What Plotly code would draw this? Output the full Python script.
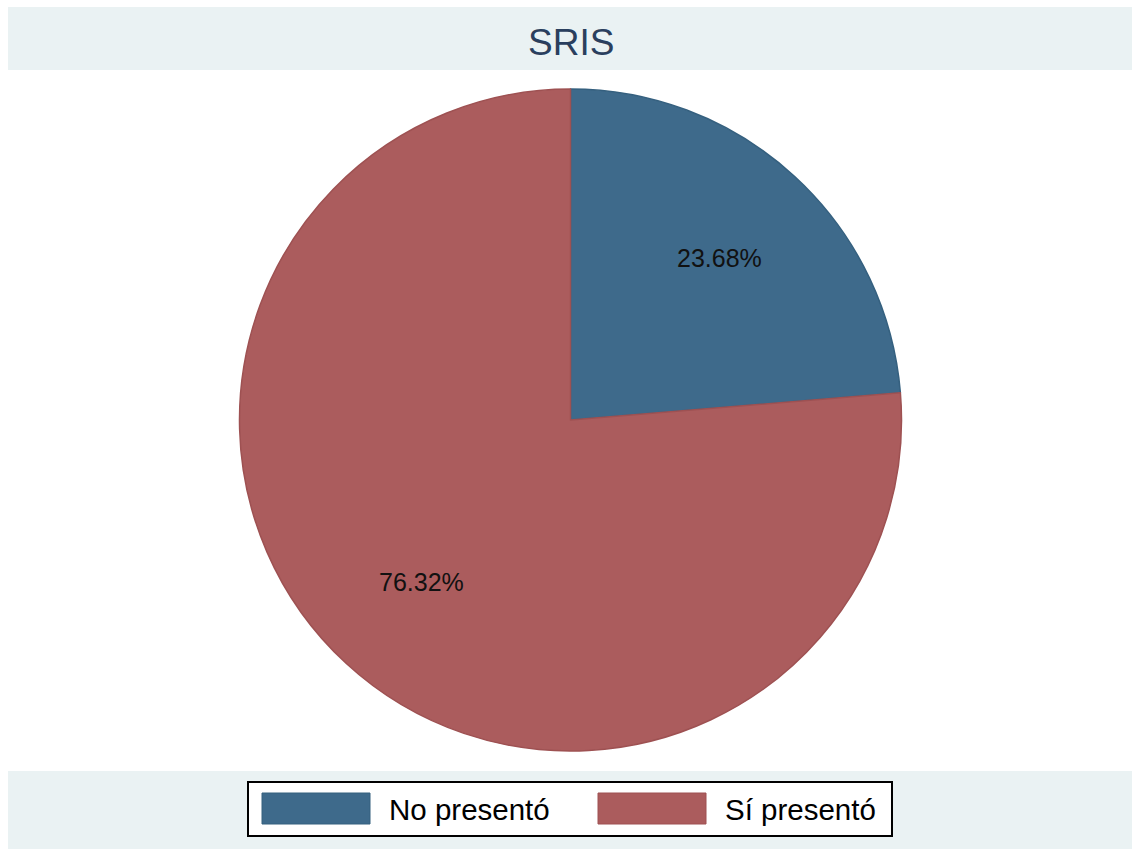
import math
import plotly.graph_objects as go

categories = ["No presentó", "Sí presentó"]
counts = [9, 29]
colors = ["#3E6A8B", "#AB5C5D"]
line_colors = ["#35607F", "#9E5152"]
title_text = "SRIS"

W, H = 1132, 850
total = sum(counts)
pcts = [c / total * 100 for c in counts]

# pie geometry (pixels)
cx, cy, R = 570.5, 420, 331

fig = go.Figure()
fig.add_trace(go.Pie(
    labels=categories,
    values=counts,
    sort=False,
    direction="clockwise",
    rotation=0,
    marker=dict(colors=colors, line=dict(color=line_colors, width=1.5)),
    textinfo="none",
    hoverinfo="label+percent",
    showlegend=False,
    domain=dict(x=[(cx - R) / W, (cx + R) / W], y=[(H - cy - R) / H, (H - cy + R) / H]),
))

shapes = []
annotations = []

# background bands
shapes.append(dict(type="rect", xref="paper", yref="paper",
                   x0=8 / W, x1=1, y0=1 - 70 / H, y1=1 - 7 / H,
                   fillcolor="#EAF2F3", line=dict(width=0), layer="below"))
shapes.append(dict(type="rect", xref="paper", yref="paper",
                   x0=8 / W, x1=1, y0=1 - 849 / H, y1=1 - 771 / H,
                   fillcolor="#EAF2F3", line=dict(width=0), layer="below"))

annotations.append(dict(text=title_text, xref="paper", yref="paper",
                        x=571 / W, y=1 - 42 / H, xanchor="center", yanchor="middle",
                        showarrow=False,
                        font=dict(family="Liberation Sans, Arial", size=37, color="#2A3F5E")))

# percentage labels placed at mid-angle of each slice
cum = 0.0
for p in pcts:
    mid = (cum + p / 2) / 100 * 2 * math.pi
    cum += p
    rr = 0.665 * R
    px = cx + rr * math.sin(mid)
    py = cy - rr * math.cos(mid)
    annotations.append(dict(text=f"{p:.2f}%", xref="paper", yref="paper",
                            x=px / W, y=1 - py / H, xanchor="center", yanchor="middle",
                            showarrow=False,
                            font=dict(family="Liberation Sans, Arial", size=25, color="#111111")))

# legend box
shapes.append(dict(type="rect", xref="paper", yref="paper",
                   x0=248 / W, x1=892 / W, y0=1 - 836 / H, y1=1 - 782 / H,
                   fillcolor="white", line=dict(color="black", width=2)))
sw_x = [262, 598]
tx_x = [387, 723]
for i, cat in enumerate(categories):
    shapes.append(dict(type="rect", xref="paper", yref="paper",
                       x0=sw_x[i] / W, x1=(sw_x[i] + 108) / W,
                       y0=1 - 824 / H, y1=1 - 793 / H,
                       fillcolor=colors[i], line=dict(color=line_colors[i], width=1)))
    annotations.append(dict(text=cat, xref="paper", yref="paper",
                            x=tx_x[i] / W, y=1 - 809 / H, xanchor="left", yanchor="middle",
                            showarrow=False,
                            font=dict(family="Liberation Sans, Arial", size=29.5, color="black")))

fig.update_layout(
    width=W, height=H,
    margin=dict(l=0, r=0, t=0, b=0),
    paper_bgcolor="white",
    plot_bgcolor="white",
    shapes=shapes,
    annotations=annotations,
)

fig.write_html("out.html")
